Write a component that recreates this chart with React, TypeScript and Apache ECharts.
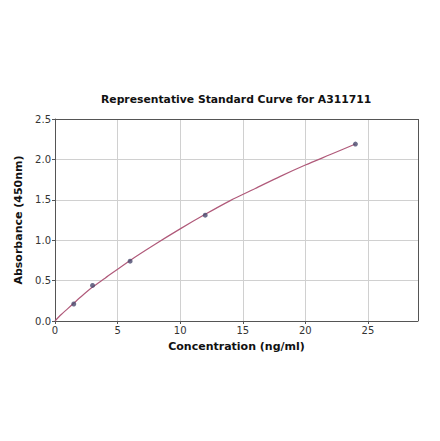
import React, { useEffect, useRef } from 'react';
import * as echarts from 'echarts';

// standard points (concentration ng/ml, absorbance)
const standardX = [1.5, 3, 6, 12, 24];
const standardY = [0.21, 0.44, 0.74, 1.31, 2.19];

// fitted curve
const curveX = [0, 0.5, 1, 1.5, 2, 3, 4, 6, 8, 10, 12, 14, 16, 18, 20, 22, 24];
const curveY = [0, 0.08, 0.15, 0.22, 0.29, 0.42, 0.53, 0.75, 0.95, 1.14, 1.32, 1.49, 1.64, 1.79, 1.93, 2.06, 2.19];

const xTicks = [0, 5, 10, 15, 20, 25];
const yTicks = [0, 0.5, 1, 1.5, 2, 2.5];

const FONT = 'DejaVu Sans, sans-serif';

const App: React.FC = () => {
    const chartRef = useRef<HTMLDivElement>(null);

    useEffect(() => {
        const chart = echarts.init(chartRef.current!, undefined, { renderer: 'svg' });
        const axisLine = { show: true, lineStyle: { color: '#555', width: 1 } };
        const options: echarts.EChartsOption = {
            animation: false,
            textStyle: { fontFamily: FONT },
            title: {
                text: 'Representative Standard Curve for A311711',
                left: 101,
                top: 94,
                padding: 0,
                textStyle: { fontSize: 10.8, fontWeight: 'bold', color: '#111', fontFamily: FONT },
            },
            grid: { left: 55, top: 119, width: 363, height: 202, containLabel: false },
            xAxis: {
                type: 'value',
                min: 0,
                max: 29,
                interval: 5,
                name: 'Concentration (ng/ml)',
                nameLocation: 'middle',
                nameGap: 20,
                nameTextStyle: { fontSize: 11, fontWeight: 'bold', color: '#111', fontFamily: FONT },
                axisLine,
                axisTick: { show: true, length: 3, lineStyle: { color: '#555' } },
                axisLabel: {
                    fontSize: 10,
                    color: '#333',
                    margin: 4,
                    showMaxLabel: false,
                    formatter: (v: number) => (xTicks.includes(v) ? String(v) : ''),
                },
                splitLine: { show: true, lineStyle: { color: '#d0d0d0', width: 1 } },
            },
            yAxis: {
                type: 'value',
                min: 0,
                max: 2.5,
                interval: 0.5,
                name: 'Absorbance (450nm)',
                nameLocation: 'middle',
                nameGap: 26,
                nameTextStyle: { fontSize: 11, fontWeight: 'bold', color: '#111', fontFamily: FONT },
                axisLine,
                axisTick: { show: true, length: 3, lineStyle: { color: '#555' } },
                axisLabel: {
                    fontSize: 10,
                    color: '#333',
                    margin: 4,
                    formatter: (v: number) => (yTicks.includes(v) ? v.toFixed(1) : ''),
                },
                splitLine: { show: true, lineStyle: { color: '#d0d0d0', width: 1 } },
            },
            series: [
                {
                    type: 'line',
                    data: curveX.map((x, i) => [x, curveY[i]]),
                    smooth: 0.3,
                    showSymbol: false,
                    lineStyle: { color: '#b05a7a', width: 1.2 },
                    z: 2,
                },
                {
                    type: 'scatter',
                    data: standardX.map((x, i) => [x, standardY[i]]),
                    symbolSize: 5,
                    itemStyle: { color: '#4a4a6e' },
                    z: 3,
                },
                {
                    // right and top frame of the plot box
                    type: 'line',
                    data: [],
                    markLine: {
                        silent: true,
                        symbol: 'none',
                        label: { show: false },
                        lineStyle: { color: '#555', width: 1, type: 'solid' },
                        data: [{ xAxis: 29 }, { yAxis: 2.5 }],
                    },
                },
            ],
        };
        chart.setOption(options);
        return () => {
            chart.dispose();
        };
    }, []);

    return <div ref={chartRef} style={{ width: 440, height: 441, margin: '-8px' }} />;
};

export default App;
